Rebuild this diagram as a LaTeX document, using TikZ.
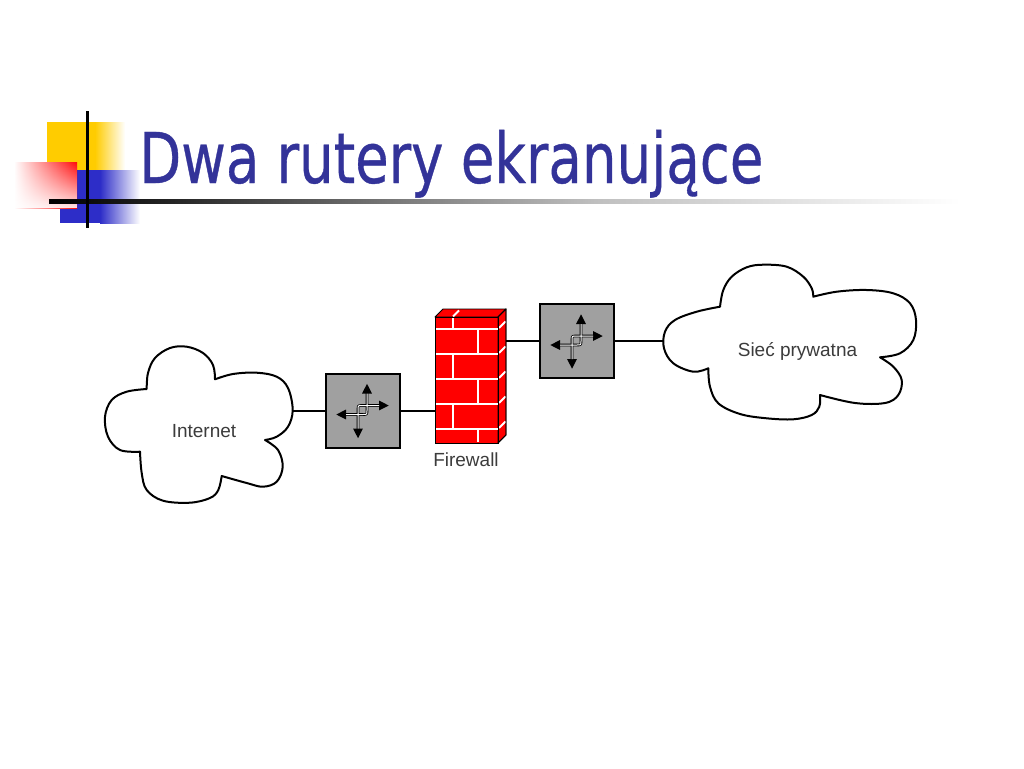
\documentclass[tikz,border=0pt]{standalone}
\usepackage{graphicx}
\usepackage{fontspec}
\setmainfont{Liberation Sans}
\newfontfamily\titlefont[FakeBold=0.6]{DejaVu Sans}
\usetikzlibrary{arrows.meta,fadings,calc}
\definecolor{titleblue}{RGB}{51,51,153}
\definecolor{rtgray}{RGB}{160,160,160}
\definecolor{dgold}{RGB}{255,204,0}
\definecolor{dblue}{RGB}{45,45,200}
\definecolor{dred}{RGB}{255,10,10}
\definecolor{labelgray}{RGB}{60,60,60}
\definecolor{brickred}{RGB}{255,0,0}
\tikzfading[name=fadedown, top color=transparent!100, bottom color=transparent!0]
\pgfdeclarehorizontalshading{rulefade}{100bp}{color(0bp)=(black); color(25bp)=(black); color(32bp)=(black!85); color(45bp)=(black!50); color(55bp)=(black!25); color(75bp)=(white); color(100bp)=(white)}
\tikzset{
  conn/.style={draw=black, line width=2pt},
  cloudline/.style={draw=black, line width=2pt, line join=round, fill=white},
  lbl/.style={text=labelgray, font=\fontsize{19}{22}\selectfont, inner sep=0pt, anchor=base},
  routerbox/.style={draw=black, line width=2pt, fill=rtgray, minimum width=74pt, minimum height=74pt, inner sep=0pt},
  shaftblk/.style={draw=black, line width=2.6pt, line join=round, {Triangle[length=10pt,width=9pt]}-{Triangle[length=10pt,width=9pt]}},
  shaftwht/.style={draw=white, line width=1pt, line join=round},
  brick/.style={fill=brickred, draw=black, line width=0.9pt, line join=round},
  mortar/.style={draw=white, line width=2pt},
}
\begin{document}
\begin{tikzpicture}[x=1pt,y=-1pt]
\useasboundingbox (0,0) rectangle (1024,768);
\fill[white] (0,0) rectangle (1024,768);

% ---- decoration ----
\fill[dgold] (47,122) rectangle (95,170);
\shade[left color=dgold, right color=white] (95,122) rectangle (125,170);
\fill[dblue] (60,170) rectangle (100,223);
\shade[left color=dblue, right color=white] (100,170) rectangle (140,223);
\shade[left color=white, right color=dred] (14,162) rectangle (77,208);
\fill[white, path fading=fadedown, fill opacity=0.9] (14,162) rectangle (77,208);
\shade[shading=rulefade] (49,199) rectangle (960,203);
\draw[black, line width=3pt] (87,111) -- (87,228);

% ---- title ----
\node[anchor=base west, inner sep=0pt, text=titleblue] (title) at (139,183)
  {\titlefont\fontsize{70}{80}\selectfont\scalebox{0.78}[1]{Dwa rutery ekranujące}};

% ---- Internet cloud ----
\draw[cloudline]
  plot[smooth, tension=0.6] coordinates {(146.7,389) (148,373) (155,358) (170,348) (186.7,346.7) (203,353) (213,365) (215,379.3)}
  -- plot[smooth, tension=0.6] coordinates {(215,379.3) (233,374) (256.7,372.7) (276.7,376.7) (288,388) (292.7,410) (288,426.7) (276.7,436.7) (265,440)}
  -- plot[smooth, tension=0.6] coordinates {(265,440) (278,450) (282.7,466.7) (276.7,481.7) (263,486.7) (246.7,483) (221.7,476)}
  -- plot[smooth, tension=0.6] coordinates {(221.7,476) (218.3,490) (210,498) (190,502.7) (163,500.7) (146.7,490) (141.7,473) (140,451.7)}
  -- plot[smooth, tension=0.6] coordinates {(140,451.7) (120,450) (108,436.7) (105,416.7) (111.7,400) (126.7,391.7) (146.7,389)}
  -- cycle;
\node[lbl] (inet) at (204,437) {Internet};

% ---- private network cloud ----
\draw[cloudline]
  plot[smooth, tension=0.6] coordinates {(720,306.7) (723.3,290) (731.7,276.7) (746.7,267.3) (763.3,264.7) (786.7,266.7) (803.3,276.7) (811.7,288.3) (813.3,296.7)}
  -- plot[smooth, tension=0.6] coordinates {(813.3,296.7) (836.7,291.7) (866.7,290) (893.3,293.3) (910,303.3) (916,320) (913.3,340) (900,353.3) (880,357.3)}
  -- plot[smooth, tension=0.6] coordinates {(880,357.3) (893.3,366.7) (901.7,380) (898.3,395) (885,403) (855,403) (820,395)}
  -- plot[smooth, tension=0.6] coordinates {(820,395) (819.3,406.7) (811.7,415) (793.3,419.3) (766.7,418.3) (740,414) (718.3,403.3) (710,386.7) (708.3,368.3)}
  -- plot[smooth, tension=0.6] coordinates {(708.3,368.3) (693.3,371.7) (673.3,363.3) (664,348.3) (665,331.7) (675,320) (696.7,311.7) (720,306.7)}
  -- cycle;
\node[lbl] (priv) at (797.5,356.7) {Sieć prywatna};

% ---- routers ----
\node[routerbox] (r1) at (363,410.5) {};
\node[routerbox] (r2) at (577,341) {};
\foreach \r in {r1,r2}{
  \begin{scope}[shift={(\r.center)}]
    \draw[shaftblk] (-27,4) -- (0,4) .. controls (4,4) .. (4,0) -- (4,-27);
    \draw[shaftblk] (-5,28) -- (-5,-1) .. controls (-5,-5) .. (-1,-5) -- (26,-5);
    \draw[shaftwht] (-17,4) -- (0,4) .. controls (4,4) .. (4,0) -- (4,-17);
    \draw[shaftwht] (-5,18) -- (-5,-1) .. controls (-5,-5) .. (-1,-5) -- (16,-5);
  \end{scope}
}

% ---- firewall ----
\node[inner sep=0pt, minimum width=71pt, minimum height=134pt] (fw) at (470.5,376) {};
\draw[brick] (435,317) rectangle (498,443);
\draw[brick] (435,317) -- (443,309) -- (506,309) -- (498,317) -- cycle;
\draw[brick] (498,317) -- (506,309) -- (506,435) -- (498,443) -- cycle;
\foreach \y in {329,354,379,404,429}{
  \draw[mortar] (436,\y) -- (497.5,\y);
  \draw[mortar] (499,\y-1) -- (505.5,\y-7.5);
}
\foreach \ya/\yb/\x in {318/329/453, 329/354/478, 354/379/453, 379/404/478, 404/429/453, 429/442/478}{
  \draw[mortar] (\x,\ya) -- (\x,\yb);
}
\draw[mortar] (453,316.5) -- (459,310.5);
\draw[brick, fill=none] (435,317) rectangle (498,443);
\draw[brick, fill=none] (498,317) -- (506,309) -- (506,435) -- (498,443);
\node[lbl] (fwlbl) at (466,466.5) {Firewall};

% ---- connectors ----
\coordinate (inetE) at (292.5,410.5);
\coordinate (privW) at (664,341);
\draw[conn] (inetE) -- (r1.west);
\draw[conn] (r1.east) -- (r1.east -| fw.west);
\draw[conn] (fw.east |- r2.west) -- (r2.west);
\draw[conn] (r2.east) -- (privW);
\end{tikzpicture}
\end{document}
